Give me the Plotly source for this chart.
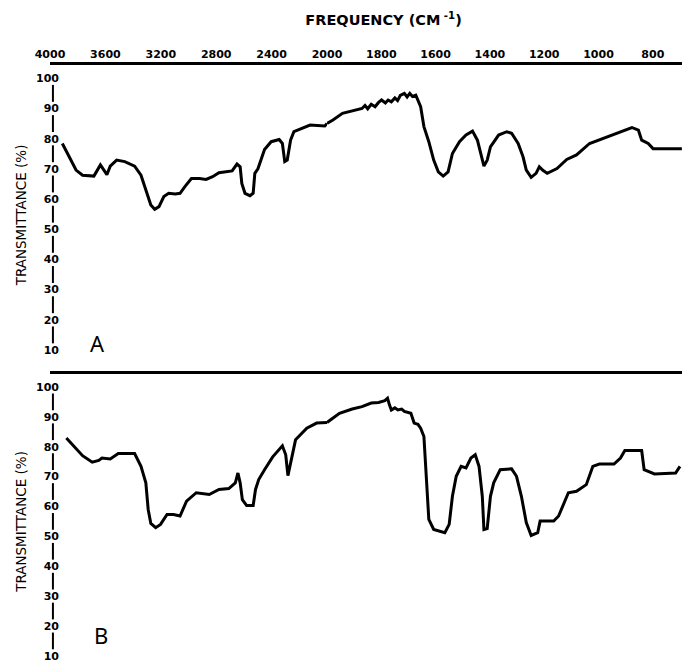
import plotly.graph_objects as go

# ---------------- data ----------------
wn_A = [3911, 3859, 3812, 3765, 3683, 3636, 3613, 3589, 3565, 3519, 3460, 3389, 3343, 3308,
        3272, 3244, 3213, 3178, 3143, 3096, 3061, 3026, 2979, 2920, 2873, 2826, 2780, 2685,
        2650, 2627, 2615, 2592, 2556, 2533, 2521, 2498, 2474, 2451, 2403, 2345, 2322, 2305,
        2287, 2263, 2239, 2122, 2016, 2000, 1978, 1943, 1895, 1871, 1860, 1850, 1837, 1823,
        1810, 1799, 1785, 1775, 1763, 1750, 1740, 1730, 1715, 1705, 1695, 1685, 1673, 1655,
        1643, 1625, 1607, 1590, 1572, 1554, 1538, 1512, 1488, 1464, 1446, 1430, 1422, 1410,
        1398, 1368, 1338, 1320, 1296, 1278, 1266, 1248, 1230, 1218, 1206, 1189, 1153, 1117,
        1081, 1033, 961, 913, 877, 853, 841, 817, 799, 693]
T_A = [78.4, 74.0, 69.6, 67.9, 67.6, 71.3, 69.6, 68.1, 70.9, 72.9, 72.4, 70.9, 67.9, 63.0,
       58.0, 56.6, 57.5, 60.8, 61.9, 61.7, 61.9, 64.1, 66.8, 66.8, 66.5, 67.4, 68.7, 69.3,
       71.6, 70.7, 65.2, 61.9, 61.1, 61.9, 68.5, 70.1, 73.4, 76.4, 79.0, 79.7, 78.4, 72.4,
       72.9, 79.5, 82.3, 84.5, 84.2, 85.0, 86.2, 88.4, 89.5, 90.0, 91.0, 89.9, 91.4, 90.6,
       92.0, 92.8, 91.8, 92.8, 92.2, 93.5, 92.6, 94.3, 95.0, 93.8, 95.0, 94.0, 94.4, 90.6,
       84.0, 79.0, 72.9, 69.0, 67.6, 69.0, 75.1, 79.0, 81.2, 82.5, 79.5, 74.0, 70.9, 72.9,
       77.3, 81.2, 82.3, 81.8, 78.4, 74.0, 69.6, 67.2, 68.5, 70.7, 69.6, 68.5, 70.1, 73.1,
       74.6, 78.4, 80.9, 82.7, 83.7, 82.8, 79.5, 78.4, 76.7, 76.7]

wn_B = [3882, 3836, 3765, 3695, 3648, 3625, 3565, 3507, 3389, 3343, 3308, 3291, 3272, 3237,
        3202, 3155, 3108, 3061, 3014, 2944, 2850, 2780, 2709, 2662, 2643, 2627, 2611, 2580,
        2533, 2516, 2493, 2451, 2392, 2322, 2298, 2282, 2263, 2227, 2146, 2075, 2000, 1954,
        1907, 1871, 1837, 1810, 1787, 1777, 1770, 1763, 1750, 1739, 1725, 1715, 1691, 1679,
        1665, 1655, 1643, 1631, 1625, 1607, 1566, 1550, 1538, 1524, 1506, 1488, 1470, 1454,
        1440, 1428, 1422, 1410, 1398, 1386, 1362, 1320, 1302, 1284, 1266, 1248, 1224, 1215,
        1165, 1147, 1129, 1111, 1081, 1045, 1021, 997, 943, 919, 903, 841, 832, 794, 716, 700]
T_B = [82.9, 80.7, 77.0, 74.8, 75.4, 76.2, 75.9, 77.7, 77.7, 73.4, 67.9, 59.0, 54.3, 52.9,
       54.0, 57.3, 57.3, 56.8, 61.8, 64.6, 64.0, 65.7, 66.0, 67.9, 71.2, 67.9, 62.3, 60.3,
       60.3, 65.7, 69.0, 72.3, 76.6, 80.3, 77.3, 70.3, 74.6, 82.3, 86.2, 87.9, 88.1, 91.2,
       92.6, 93.4, 94.6, 94.8, 95.4, 96.2, 94.0, 92.3, 93.0, 92.3, 92.6, 91.8, 91.2, 87.9,
       87.5, 86.2, 83.4, 66.8, 55.7, 52.3, 51.2, 54.0, 63.4, 70.1, 73.4, 72.9, 76.2, 77.3,
       73.4, 63.4, 52.3, 52.6, 63.4, 67.9, 72.3, 72.6, 70.1, 63.4, 54.6, 50.3, 51.2, 55.1,
       55.1, 56.8, 60.7, 64.6, 65.1, 67.3, 73.4, 74.2, 74.2, 76.2, 78.7, 78.7, 72.3, 70.9,
       71.2, 73.4]

ticks_left = [4000, 3600, 3200, 2800, 2400, 2000]
ticks_right = [1800, 1600, 1400, 1200, 1000, 800]
ticks_y = [10, 20, 30, 40, 50, 60, 70, 80, 90, 100]
SCALE_BREAK = 2000

# ---------------- layout constants ----------------
W, H = 698, 669
ML = 50
PW = W - ML
d = (334 - ML) / PW          # split between the two wavenumber scales

def split(wn, t):
    lx = [w for w in wn if w >= SCALE_BREAK]
    ly = [v for w, v in zip(wn, t) if w >= SCALE_BREAK]
    rx = [w for w in wn if w <= SCALE_BREAK]
    ry = [v for w, v in zip(wn, t) if w <= SCALE_BREAK]
    return lx, ly, rx, ry

line = dict(color="black", width=3)
fig = go.Figure()
aLx, aLy, aRx, aRy = split(wn_A, T_A)
bLx, bLy, bRx, bRy = split(wn_B, T_B)
fig.add_trace(go.Scatter(x=aLx, y=aLy, mode="lines", line=line, xaxis="x", yaxis="y"))
fig.add_trace(go.Scatter(x=aRx, y=aRy, mode="lines", line=line, xaxis="x2", yaxis="y"))
fig.add_trace(go.Scatter(x=bLx, y=bLy, mode="lines", line=line, xaxis="x3", yaxis="y2"))
fig.add_trace(go.Scatter(x=bRx, y=bRy, mode="lines", line=line, xaxis="x4", yaxis="y2"))

tickfont = dict(family="DejaVu Sans", size=11, color="black", weight="bold")
xcommon = dict(side="top", showgrid=False, zeroline=False, showline=True, linecolor="black",
               linewidth=3, ticks="", tickfont=tickfont, fixedrange=True)

yA = (1 - 365 / H, 1 - 65 / H)
yB = (0, 1 - 374 / H)
rangeA = [5.03, 104.4]
rangeB = [5.6, 104.33]

ycommon = dict(showgrid=False, zeroline=False, showline=False, ticks="",
               tickvals=ticks_y, tickfont=tickfont, ticklabelstandoff=-10, fixedrange=True,
               title=dict(text="TRANSMITTANCE (%)",
                          font=dict(family="DejaVu Sans", size=13.5, color="black"),
                          standoff=6))

fig.update_layout(
    width=W, height=H,
    margin=dict(l=ML, r=0, t=0, b=0),
    paper_bgcolor="white", plot_bgcolor="white",
    showlegend=False,
    xaxis=dict(domain=[0, d], anchor="y", range=[4000, SCALE_BREAK], tickvals=ticks_left, **xcommon),
    xaxis2=dict(domain=[d, 1], anchor="y", range=[SCALE_BREAK, 692.5], tickvals=ticks_right, **xcommon),
    xaxis3=dict(domain=[0, d], anchor="y2", range=[4000, SCALE_BREAK], showticklabels=False, **xcommon),
    xaxis4=dict(domain=[d, 1], anchor="y2", range=[SCALE_BREAK, 692.5], showticklabels=False, **xcommon),
    yaxis=dict(domain=list(yA), anchor="x", range=rangeA, **ycommon),
    yaxis2=dict(domain=list(yB), anchor="x3", range=rangeB, **ycommon),
    title=dict(text="FREQUENCY (CM<sup> -1</sup>)", x=(392 - ML) / PW, xref="paper", xanchor="center",
               y=1 - 20 / H, yref="container", yanchor="middle",
               font=dict(family="DejaVu Sans", size=14.5, color="black", weight="bold")),
)

# broken vertical axis line between tick labels
xline = (53 - ML) / PW
shapes = []
for yref in ("y", "y2"):
    for t in ticks_y[:-1]:
        shapes.append(dict(type="line", xref="paper", yref=yref, x0=xline, x1=xline,
                           y0=t + 2.2, y1=t + 7.8, line=dict(color="black", width=2)))
fig.update_layout(shapes=shapes)

fig.add_annotation(text="A", xref="paper", yref="paper", x=(89 - ML) / PW, y=1 - 343 / H,
                   showarrow=False, font=dict(family="Noto Sans", size=22, color="black"))
fig.add_annotation(text="B", xref="paper", yref="paper", x=(93 - ML) / PW, y=1 - 652 / H,
                   showarrow=False, font=dict(family="Noto Sans", size=22, color="black"))

fig.write_html("out.html", config={"displayModeBar": False},
               post_script="document.body.style.margin='0';")
